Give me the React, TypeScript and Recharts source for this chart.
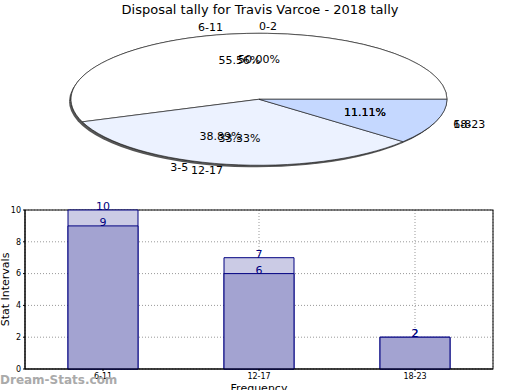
import {
  PieChart,
  Pie,
  Cell,
  BarChart,
  Bar,
  XAxis,
  YAxis,
  CartesianGrid,
  LabelList,
  usePlotArea,
} from "recharts";

// pie: two overlaid tallies (counts out of 18)
const pieNamesA = ["0-2", "3-5", "6-8"];
const pieValuesA = [9, 7, 2];

const pieNamesB = ["6-11", "12-17", "18-23"];
const pieValuesB = [10, 6, 2];

const pieColors = ["#ffffff", "#ecf2ff", "#c5d8ff"];

// bars
const categories = ["6-11", "12-17", "18-23"];
const backValues = [10, 7, 2];
const frontValues = [9, 6, 2];
const yTicks = [0, 2, 4, 6, 8, 10];

const FONT = "DejaVu Sans, sans-serif";
const K = 66 / 188; // vertical squash of the pie
const RAD = Math.PI / 180;
const PIE_H = 480;
const PIE_CY = PIE_H / 2;

const pieA = pieNamesA.map((name, i) => ({ name, value: pieValuesA[i] }));
const pieB = pieNamesB.map((name, i) => ({ name, value: pieValuesB[i] }));
const barData = categories.map((name, i) => ({ name, back: backValues[i], front: frontValues[i] }));

function pieLabel(props: any) {
  const { cx, cy, midAngle, outerRadius, percent, index } = props;
  const c = Math.cos(-midAngle * RAD);
  const s = Math.sin(-midAngle * RAD);
  const ox = cx + outerRadius * 1.1 * c;
  const oy = cy + outerRadius * 1.1 * s;
  const ix = cx + outerRadius * 0.6 * c;
  const iy = cy + outerRadius * 0.6 * s;
  const name = props.payload?.name ?? props.name;
  return (
    <g key={`lbl-${index}`}>
      <text
        transform={`translate(${ox} ${oy}) scale(1 ${1 / K})`}
        textAnchor={c > 0 ? "start" : "end"}
        dominantBaseline="central"
        fontSize={11}
        fontFamily={FONT}
        fill="#000"
      >
        {name}
      </text>
      <text
        transform={`translate(${ix} ${iy}) scale(1 ${1 / K})`}
        textAnchor="middle"
        dominantBaseline="central"
        fontSize={11}
        fontFamily={FONT}
        fill="#000"
      >
        {`${(percent * 100).toFixed(2)}%`}
      </text>
    </g>
  );
}

function PlotFrame() {
  const area = usePlotArea();
  if (!area) return null;
  return (
    <rect x={area.x} y={area.y} width={area.width} height={area.height} fill="none" stroke="#000" />
  );
}

export default function App() {
  return (
    <div
      style={{
        position: "fixed",
        left: 0,
        top: 0,
        width: 520,
        height: 390,
        background: "#fff",
        fontFamily: FONT,
        overflow: "hidden",
      }}
    >
      <div
        style={{
          position: "absolute",
          left: 0,
          top: 2,
          width: 520,
          textAlign: "center",
          fontSize: 13,
        }}
      >
        Disposal tally for Travis Varcoe - 2018 tally
      </div>

      <div
        style={{
          position: "absolute",
          left: 0,
          top: 33 - (PIE_CY - 188) * K,
          width: 520,
          height: PIE_H,
          transform: `scaleY(${K})`,
          transformOrigin: "0 0",
        }}
      >
        <PieChart width={520} height={PIE_H} margin={{ top: 0, right: 0, bottom: 0, left: 0 }}>
          <Pie
            data={pieA}
            dataKey="value"
            cx={257}
            cy={PIE_CY + 6}
            outerRadius={188}
            startAngle={0}
            endAngle={360}
            fill="#555"
            stroke="none"
            isAnimationActive={false}
          />
          <Pie
            data={pieA}
            dataKey="value"
            cx={259}
            cy={PIE_CY}
            outerRadius={188}
            startAngle={0}
            endAngle={360}
            label={pieLabel}
            labelLine={false}
            isAnimationActive={false}
          >
            {pieA.map((d, i) => (
              <Cell key={d.name} fill={pieColors[i]} stroke="#222" strokeWidth={1} />
            ))}
          </Pie>
          <Pie
            data={pieB}
            dataKey="value"
            cx={259}
            cy={PIE_CY}
            outerRadius={188}
            startAngle={0}
            endAngle={360}
            label={pieLabel}
            labelLine={false}
            isAnimationActive={false}
          >
            {pieB.map((d, i) => (
              <Cell key={d.name} fill={pieColors[i]} stroke="#222" strokeWidth={1} />
            ))}
          </Pie>
        </PieChart>
      </div>

      <div style={{ position: "absolute", left: 0, top: 195 }}>
        <BarChart
          width={520}
          height={195}
          data={barData}
          margin={{ top: 15, right: 27, left: 8, bottom: 0 }}
          barSize={70}
          barGap={-70}
        >
          <CartesianGrid stroke="#999" strokeDasharray="1 2" />
          <XAxis
            dataKey="name"
            height={21}
            tick={{ fontSize: 8, fill: "#000", fontFamily: FONT }}
            tickSize={2}
            axisLine={{ stroke: "#000" }}
            tickLine={{ stroke: "#000" }}
            label={{
              value: "Frequency",
              position: "insideBottom",
              offset: -2,
              style: { fontSize: 11, fill: "#000", fontFamily: FONT },
            }}
          />
          <YAxis
            domain={[0, 10]}
            ticks={yTicks}
            width={17}
            tick={{ fontSize: 8, fill: "#000", fontFamily: FONT }}
            tickSize={2}
            axisLine={{ stroke: "#000" }}
            tickLine={{ stroke: "#000" }}
            label={{
              value: "Stat Intervals",
              angle: -90,
              position: "insideLeft",
              offset: -3,
              style: { fontSize: 11, fill: "#000", fontFamily: FONT, textAnchor: "middle" },
            }}
          />
          <Bar dataKey="back" fill="#cbcbe5" stroke="#000080" strokeWidth={1} isAnimationActive={false}>
            <LabelList dataKey="back" position="top" offset={0} fill="#000080" fontSize={11} fontFamily={FONT} />
          </Bar>
          <Bar dataKey="front" fill="#a3a3d1" stroke="#000080" strokeWidth={1} isAnimationActive={false}>
            <LabelList dataKey="front" position="top" offset={0} fill="#000080" fontSize={11} fontFamily={FONT} />
          </Bar>
          <PlotFrame />
        </BarChart>
      </div>

      <div
        style={{
          position: "absolute",
          left: 0,
          top: 373,
          fontSize: 12,
          fontWeight: "bold",
          color: "#aaa",
        }}
      >
        Dream-Stats.com
      </div>
    </div>
  );
}
